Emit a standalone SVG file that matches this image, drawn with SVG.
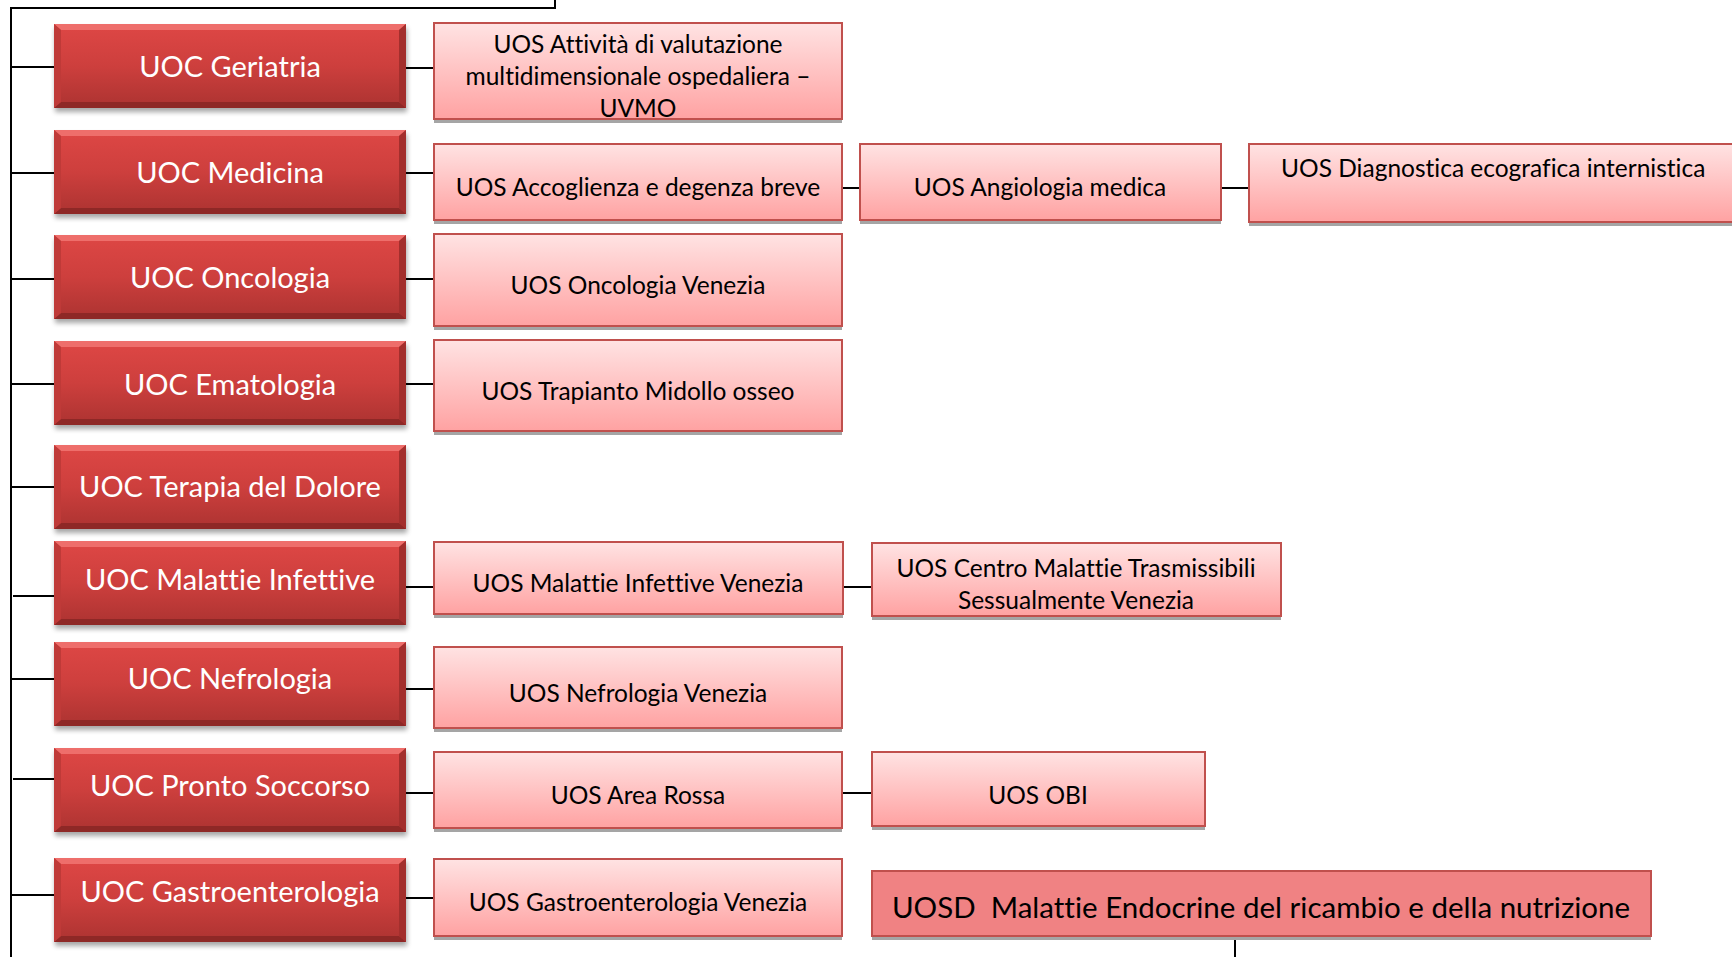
<svg xmlns="http://www.w3.org/2000/svg" xmlns:xlink="http://www.w3.org/1999/xlink" width="1732" height="957" viewBox="0 0 1732 957">
<defs>
<style>
text{font-variant-ligatures:none}
.uoc-t{font-family:Lato,"Open Sans","Liberation Sans",sans-serif;font-size:29px;fill:#ffffff;text-anchor:middle}
.uos-t{font-family:Lato,"Open Sans","Liberation Sans",sans-serif;font-size:24.5px;fill:#000000;text-anchor:middle}
.uosd-t{font-family:Lato,"Open Sans","Liberation Sans",sans-serif;font-size:29.5px;fill:#000000;text-anchor:middle;white-space:pre}
.uos{fill:url(#gUos);stroke:#C0504D;stroke-width:2}
.uosd{fill:#F08283;stroke:#C0504D;stroke-width:2}
.sh{fill:#A5A5A5}
.ln{stroke:#000000;stroke-width:2;fill:none}
</style>
<linearGradient id="gUoc" x1="0" y1="0" x2="0" y2="1">
<stop offset="0" stop-color="#DE4745"/>
<stop offset="0.5" stop-color="#CD3F3D"/>
<stop offset="1" stop-color="#AC3331"/>
</linearGradient>
<linearGradient id="gUos" x1="0" y1="0" x2="0" y2="1">
<stop offset="0" stop-color="#FFE3E3"/>
<stop offset="1" stop-color="#FFA2A2"/>
</linearGradient>
<filter id="blur" x="-10%" y="-20%" width="120%" height="150%">
<feGaussianBlur stdDeviation="2.5"/>
</filter>
<g id="uocBox">
<rect x="1" y="4" width="352" height="84" fill="#000000" opacity="0.35" filter="url(#blur)"/>
<rect x="0" y="0" width="352" height="84" fill="url(#gUoc)"/>
<polygon points="0,0 352,0 345,6 7,6" fill="#EE6E6B"/>
<polygon points="0,84 352,84 345,78 7,78" fill="#8E2826"/>
<polygon points="0,0 7,6 7,78 0,84" fill="#BF3A38"/>
<polygon points="352,0 345,6 345,78 352,84" fill="#A32F2D"/>
</g>
</defs>
<rect width="1732" height="957" fill="#ffffff"/>

<g id="connectors">
<path class="ln" d="M555,0 V8 H11 V957"/>
<path class="ln" d="M11,67 H54 M11,173 H54 M11,279 H54 M11,384 H54 M11,487 H54 M13,596 H54 M11,679 H54 M13,779 H54 M11,895 H54"/>
<path class="ln" d="M406,68 H434 M406,173 H434 M406,279 H434 M406,384 H434 M406,587 H434 M406,689 H434 M406,793 H434 M406,898 H434"/>
<path class="ln" d="M842,188 H860 M1221,188 H1249 M843,587 H872 M842,793 H872"/>
<path class="ln" d="M1235,939 V957"/>
</g>

<g id="uoc-geriatria"><use href="#uocBox" x="54" y="24"/><text class="uoc-t" x="230" y="77">UOC Geriatria</text></g>
<g id="uoc-medicina"><use href="#uocBox" x="54" y="130"/><text class="uoc-t" x="230" y="183">UOC Medicina</text></g>
<g id="uoc-oncologia"><use href="#uocBox" x="54" y="235"/><text class="uoc-t" x="230" y="288">UOC Oncologia</text></g>
<g id="uoc-ematologia"><use href="#uocBox" x="54" y="341"/><text class="uoc-t" x="230" y="395">UOC Ematologia</text></g>
<g id="uoc-terapia"><use href="#uocBox" x="54" y="445"/><text class="uoc-t" x="230" y="497">UOC Terapia del Dolore</text></g>
<g id="uoc-malattie"><use href="#uocBox" x="54" y="541"/><text class="uoc-t" x="230" y="590">UOC Malattie Infettive</text></g>
<g id="uoc-nefrologia"><use href="#uocBox" x="54" y="642"/><text class="uoc-t" x="230" y="689">UOC Nefrologia</text></g>
<g id="uoc-pronto"><use href="#uocBox" x="54" y="748"/><text class="uoc-t" x="230" y="796">UOC Pronto Soccorso</text></g>
<g id="uoc-gastro"><use href="#uocBox" x="54" y="858"/><text class="uoc-t" x="230" y="902">UOC Gastroenterologia</text></g>

<g id="uos-attivita"><rect class="sh" x="434" y="27" width="408" height="96"/><rect class="uos" x="434" y="23" width="408" height="96"/>
<text class="uos-t" x="638" y="53">UOS Attività di valutazione</text>
<text class="uos-t" x="638" y="85">multidimensionale ospedaliera –</text>
<text class="uos-t" x="638" y="117">UVMO</text></g>
<g id="uos-accoglienza"><rect class="sh" x="434" y="148" width="408" height="76"/><rect class="uos" x="434" y="144" width="408" height="76"/><text class="uos-t" x="638" y="196">UOS Accoglienza e degenza breve</text></g>
<g id="uos-angiologia"><rect class="sh" x="860" y="148" width="361" height="76"/><rect class="uos" x="860" y="144" width="361" height="76"/><text class="uos-t" x="1040" y="196">UOS Angiologia medica</text></g>
<g id="uos-diagnostica"><rect class="sh" x="1249" y="148" width="490" height="78"/><rect class="uos" x="1249" y="144" width="490" height="78"/><text class="uos-t" x="1281" y="177" style="text-anchor:start">UOS Diagnostica ecografica internistica</text></g>
<g id="uos-oncologia"><rect class="sh" x="434" y="238" width="408" height="92"/><rect class="uos" x="434" y="234" width="408" height="92"/><text class="uos-t" x="638" y="294">UOS Oncologia Venezia</text></g>
<g id="uos-trapianto"><rect class="sh" x="434" y="344" width="408" height="91"/><rect class="uos" x="434" y="340" width="408" height="91"/><text class="uos-t" x="638" y="400">UOS Trapianto Midollo osseo</text></g>
<g id="uos-malattie"><rect class="sh" x="434" y="546" width="409" height="72"/><rect class="uos" x="434" y="542" width="409" height="72"/><text class="uos-t" x="638" y="592">UOS Malattie Infettive Venezia</text></g>
<g id="uos-centro"><rect class="sh" x="872" y="547" width="409" height="73"/><rect class="uos" x="872" y="543" width="409" height="73"/>
<text class="uos-t" x="1076" y="577">UOS Centro Malattie Trasmissibili</text>
<text class="uos-t" x="1076" y="609">Sessualmente Venezia</text></g>
<g id="uos-nefrologia"><rect class="sh" x="434" y="651" width="408" height="81"/><rect class="uos" x="434" y="647" width="408" height="81"/><text class="uos-t" x="638" y="702">UOS Nefrologia Venezia</text></g>
<g id="uos-area-rossa"><rect class="sh" x="434" y="756" width="408" height="76"/><rect class="uos" x="434" y="752" width="408" height="76"/><text class="uos-t" x="638" y="804">UOS Area Rossa</text></g>
<g id="uos-obi"><rect class="sh" x="872" y="756" width="333" height="74"/><rect class="uos" x="872" y="752" width="333" height="74"/><text class="uos-t" x="1038" y="804">UOS OBI</text></g>
<g id="uos-gastro"><rect class="sh" x="434" y="863" width="408" height="77"/><rect class="uos" x="434" y="859" width="408" height="77"/><text class="uos-t" x="638" y="911">UOS Gastroenterologia Venezia</text></g>
<g id="uosd-endocrine"><rect class="sh" x="872" y="875" width="779" height="65"/><rect class="uosd" x="872" y="871" width="779" height="65"/><text class="uosd-t" x="1261" y="918" xml:space="preserve">UOSD  Malattie Endocrine del ricambio e della nutrizione</text></g>
</svg>
